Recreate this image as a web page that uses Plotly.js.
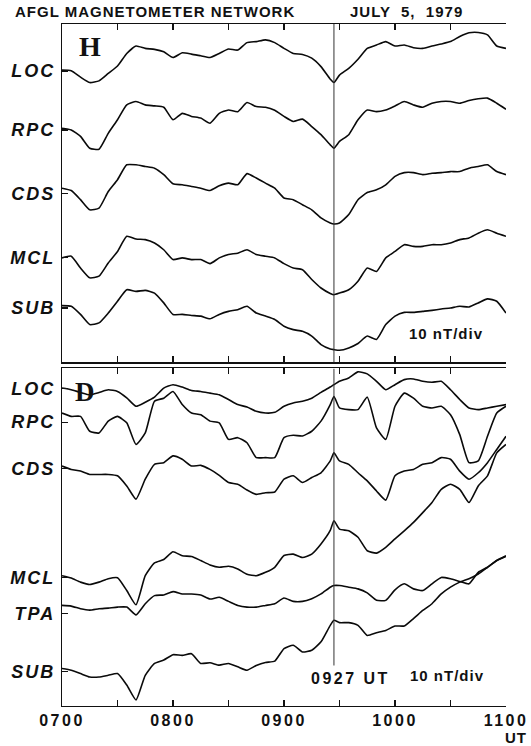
<!DOCTYPE html>
<html><head><meta charset="utf-8">
<script src="https://cdn.plot.ly/plotly-3.0.1.min.js"></script>
<style>html,body{margin:0;padding:0;background:#fff;}#chart{width:531px;height:746px;}</style>
</head><body><div id="chart"></div>
<script>
// minutes after 0700 UT
const minutes = [0,5,10,15,20,25,30,35,40,45,50,55,60,65,70,75,80,85,90,95,100,105,110,115,120,125,130,135,140,145,147,150,155,160,165,170,175,180,185,190,195,200,205,210,215,220,225,230,235,240];
const eventMinute = 147; // 0927 UT

// H component panel (nT on a 0-100 panel scale, 10 nT/div)
const H_LOC = [86.4,86.2,84.3,82.7,83.2,85.4,87.6,91.3,93.5,92.8,92.5,91.8,90.1,91.5,91.1,90.6,90.1,91.3,92.6,92.3,94.5,94.8,95.3,94.5,92.8,91.3,91.0,89.9,87.4,83.7,82.7,84.9,86.9,89.6,92.8,93.8,94.8,93.5,93.8,93.0,92.8,93.5,94.1,94.8,96.3,97.4,97.5,96.8,93.5,92.8];
const H_RPC = [69.2,68.7,66.8,63.3,63.0,67.7,71.7,76.1,77.1,76.1,75.8,75.4,71.7,73.6,72.7,72.2,70.7,73.6,74.6,74.1,76.8,75.6,75.4,74.5,72.7,71.2,71.9,69.7,67.3,64.3,63.3,65.3,67.3,71.7,74.6,74.1,74.6,75.8,77.1,76.1,75.4,76.6,77.1,77.1,76.6,77.4,77.9,78.1,76.6,74.8];
const H_CDS = [51.5,50.8,48.1,45.1,45.6,50.5,54.0,58.4,58.4,57.9,57.4,55.5,52.8,52.5,52.0,51.5,50.8,52.2,53.0,52.5,55.8,54.5,53.0,51.5,48.6,48.1,46.6,45.1,42.7,41.2,40.9,41.2,43.7,48.1,50.2,51.0,52.5,55.0,56.1,56.1,55.5,55.9,56.1,56.4,56.4,57.4,57.9,58.4,56.4,55.5];
const H_MCL = [30.9,31.4,27.9,25.0,25.5,29.4,32.8,37.3,36.5,36.3,35.3,33.3,30.4,30.9,30.4,30.4,29.2,30.9,31.9,32.3,33.3,31.9,31.4,30.9,29.2,27.9,27.4,24.5,22.0,20.4,20.0,20.5,21.5,24.0,27.9,26.9,30.9,32.8,34.8,34.3,34.3,34.8,34.8,35.3,36.3,36.8,38.2,39.2,38.2,37.3];
const H_SUB = [16.8,16.6,14.2,11.2,11.7,14.6,18.1,21.5,21.0,21.3,20.5,17.6,14.2,14.2,13.9,13.7,12.9,14.2,15.1,15.6,16.6,14.6,13.7,12.7,10.7,9.7,9.2,7.8,5.3,4.0,3.8,3.6,4.3,5.6,7.8,6.8,11.2,13.7,14.8,14.8,15.1,15.4,15.8,16.1,16.6,16.4,17.6,18.8,18.1,14.6];

// D component panel
const D_LOC = [94.2,93.7,92.9,92.2,92.9,93.7,93.2,91.3,88.8,90.0,91.5,94.2,95.2,94.5,93.5,93.2,92.7,92.2,90.8,89.3,88.6,87.3,86.8,87.0,88.8,89.8,90.3,91.2,92.9,94.5,95.2,96.2,97.2,99.0,98.4,96.2,93.7,95.2,96.7,96.9,96.2,95.9,96.2,93.7,90.8,88.3,87.8,88.3,88.8,89.3];
const D_RPC = [86.8,85.8,85.8,81.4,80.9,84.4,85.8,83.9,77.5,80.9,90.3,91.2,93.2,89.3,86.8,86.3,84.4,83.9,79.0,79.5,78.0,73.6,73.6,73.6,79.5,80.2,80.0,81.4,84.4,89.3,91.7,88.3,87.8,87.8,91.5,82.4,79.0,88.8,92.7,91.2,88.8,88.3,88.8,86.3,80.4,72.1,72.6,79.9,86.8,88.8];
const D_CDS = [71.1,70.1,69.6,68.6,68.6,68.6,68.2,65.2,61.3,67.2,71.6,72.1,74.1,73.1,71.1,71.3,70.1,68.3,66.2,65.7,64.0,62.7,63.2,63.4,67.2,68.2,66.2,67.7,69.1,72.6,75.0,72.6,71.6,69.1,66.7,63.7,61.0,68.2,69.6,70.1,71.6,72.1,73.6,73.1,69.6,67.2,69.1,72.1,76.0,79.9];
const D_MCL = [38.6,37.9,36.7,36.0,36.7,37.7,38.0,34.2,30.0,38.6,42.4,43.4,45.7,44.5,44.3,43.1,41.8,41.1,41.4,40.6,39.0,38.6,39.6,41.1,44.6,45.0,44.0,45.0,48.0,52.0,54.9,52.4,51.9,50.0,46.0,45.3,47.0,49.5,51.9,54.4,57.3,60.3,64.2,65.7,64.2,60.3,65.2,68.2,75.0,77.5];
const D_TPA = [29.8,29.6,28.8,28.4,28.8,29.0,29.3,29.3,27.0,30.3,32.7,32.9,33.9,33.2,33.2,32.9,31.7,32.2,31.0,29.8,29.3,29.3,29.8,30.3,32.0,31.0,31.0,31.8,33.2,35.2,35.7,35.7,35.2,34.7,33.5,31.3,31.3,34.4,36.2,34.7,34.2,36.2,38.1,37.7,36.9,36.2,39.6,41.1,43.1,44.5];
const D_SUB = [11.1,10.6,9.6,8.6,8.6,9.1,9.6,6.2,1.8,9.1,12.6,13.6,15.2,15.0,15.5,12.6,12.8,12.1,12.6,11.6,10.6,12.0,12.9,13.3,17.0,18.0,16.0,16.5,19.0,23.9,25.4,24.7,24.7,23.9,20.9,21.7,22.4,23.7,23.7,25.9,28.3,30.3,33.2,35.2,36.7,37.7,39.1,41.1,43.1,44.3];

const stationsH = ['LOC','RPC','CDS','MCL','SUB'];
const levelsH = [86.1, 68.7, 50.0, 30.9, 16.1];
const stationsD = ['LOC','RPC','CDS','MCL','TPA','SUB'];
const levelsD = [94.1, 84.1, 70.4, 38.0, 27.4, 10.3];
const divTicks = [10,20,30,40,50,60,70,80,90];
const hourTicks = [7,7.5,8,8.5,9,9.5,10,10.5,11];
const hourLabels = ['0700','','0800','','0900','','1000','','1100'];

const tHours = minutes.map(m => 7 + m/60);
const tEvent = 7 + eventMinute/60;

const lineStyle = {color:'#0a0a0a', width:1.6, shape:'spline', smoothing:0.5};
const traces = [];
[H_LOC,H_RPC,H_CDS,H_MCL,H_SUB].forEach((s,i)=>traces.push({x:tHours,y:s,xaxis:'x2',yaxis:'y2',mode:'lines',line:lineStyle,name:'H '+stationsH[i],hoverinfo:'skip'}));
[D_LOC,D_RPC,D_CDS,D_MCL,D_TPA,D_SUB].forEach((s,i)=>traces.push({x:tHours,y:s,xaxis:'x',yaxis:'y',mode:'lines',line:lineStyle,name:'D '+stationsD[i],hoverinfo:'skip'}));

const FONT = 'Liberation Sans, Arial, Helvetica, sans-serif';
const SERIF = 'Liberation Serif, DejaVu Serif, Times New Roman, serif';
const sp = (t,n) => '<span style="letter-spacing:'+n+'px">'+t+'</span>';

const xBase = {range:[7,11], showgrid:false, zeroline:false, showline:true, linecolor:'#111', linewidth:1.2,
  mirror:'ticks', ticks:'inside', ticklen:6, tickwidth:1.2, tickcolor:'#111', tickvals:hourTicks};
const labelAxis = (dom, vals, txt) => ({domain:dom, range:[0,100], showgrid:false, zeroline:false, showline:true,
  linecolor:'#111', linewidth:1.2, ticks:'inside', ticklen:6, tickwidth:1.2, tickcolor:'#111',
  tickvals:vals, ticktext:txt.map(t=>sp(t,2)), ticklabelstandoff:2,
  tickfont:{family:FONT, size:18, weight:'bold', style:'italic', color:'#111'}, fixedrange:true});
const divAxis = (over, side) => ({overlaying:over, side:side, anchor:'x', range:[0,100], showgrid:false, zeroline:false,
  showline:side==='right', linecolor:'#111', linewidth:1.2, ticks:'inside', ticklen:6, tickwidth:1.2, tickcolor:'#111',
  tickvals:divTicks, showticklabels:false});

const layout = {
  width:531, height:746, paper_bgcolor:'#fff', plot_bgcolor:'#fff', showlegend:false,
  margin:{l:62, r:25, t:24, b:40},
  font:{family:FONT, color:'#111'},
  xaxis: Object.assign({}, xBase, {anchor:'y', ticktext:hourLabels.map(t=>sp(t,2.5)),
    tickfont:{family:FONT, size:16, weight:'bold', color:'#111'}}),
  xaxis2: Object.assign({}, xBase, {anchor:'y2', matches:'x', showticklabels:false}),
  yaxis: labelAxis([0,0.4949], levelsD, stationsD),
  yaxis2: Object.assign(labelAxis([0.5037,1], levelsH, stationsH), {anchor:'x2'}),
  yaxis3: divAxis('y','right'),
  yaxis4: Object.assign(divAxis('y2','right'), {anchor:'x2'}),
  yaxis5: divAxis('y','left'),
  yaxis6: Object.assign(divAxis('y2','left'), {anchor:'x2'}),
  shapes:[
    {type:'line', xref:'x', yref:'y2 domain', x0:tEvent, x1:tEvent, y0:0, y1:1, line:{color:'#333', width:1}},
    {type:'line', xref:'x', yref:'y', x0:tEvent, x1:tEvent, y0:12, y1:100, line:{color:'#333', width:1}}
  ],
  annotations:[
    {xref:'paper', yref:'paper', x:-0.110, y:1.0176, xanchor:'left', yanchor:'middle', showarrow:false,
     text:sp('AFGL MAGNETOMETER NETWORK',1), font:{family:FONT, size:15, weight:'bold'}},
    {xref:'paper', yref:'paper', x:0.644, y:1.0176, xanchor:'left', yanchor:'middle', showarrow:false,
     text:sp('JULY  5,  1979',1), font:{family:FONT, size:15, weight:'bold'}},
    {xref:'paper', yref:'paper', x:0.063, y:0.967, xanchor:'center', yanchor:'middle', showarrow:false,
     text:'H', font:{family:SERIF, size:28, weight:'bold'}},
    {xref:'paper', yref:'paper', x:0.052, y:0.4604, xanchor:'center', yanchor:'middle', showarrow:false,
     text:'D', font:{family:SERIF, size:27, weight:'bold'}},
    {xref:'paper', yref:'paper', x:0.865, y:0.5455, xanchor:'center', yanchor:'middle', showarrow:false,
     text:sp('10 nT/div',1), font:{family:FONT, size:15, weight:'bold'}},
    {xref:'paper', yref:'paper', x:0.649, y:0.0403, xanchor:'center', yanchor:'middle', showarrow:false,
     text:sp('0927 UT',2.5), font:{family:FONT, size:16, weight:'bold'}},
    {xref:'paper', yref:'paper', x:0.867, y:0.044, xanchor:'center', yanchor:'middle', showarrow:false,
     text:sp('10 nT/div',1), font:{family:FONT, size:15, weight:'bold'}},
    {xref:'paper', yref:'paper', x:1.0225, y:-0.0455, xanchor:'center', yanchor:'middle', showarrow:false,
     text:sp('UT',1), font:{family:FONT, size:15, weight:'bold'}}
  ]
};
Plotly.newPlot('chart', traces, layout, {displayModeBar:false, staticPlot:true});
</script></body></html>
